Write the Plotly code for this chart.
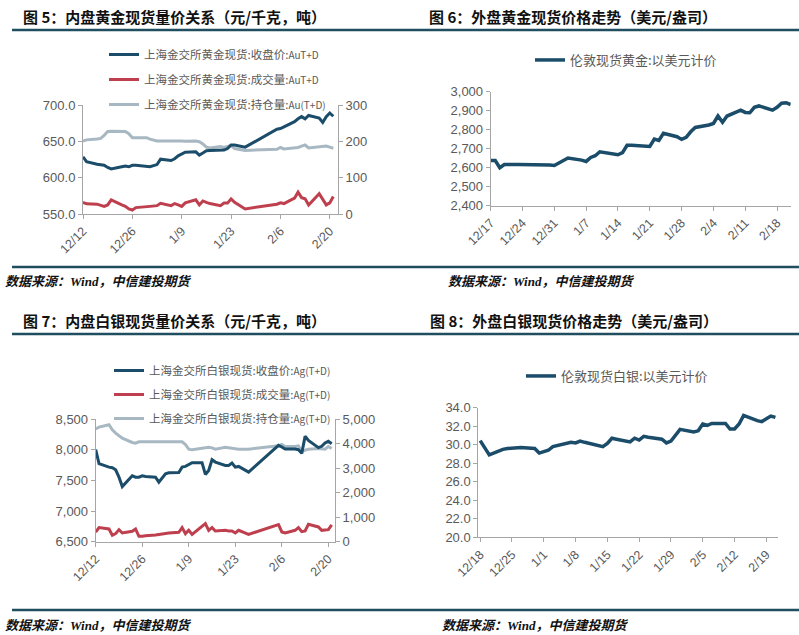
import plotly.graph_objects as go

W, H = 799, 635

# ---------------- data ----------------
sge_dates = ["2024-12-12", "2024-12-13", "2024-12-16", "2024-12-17", "2024-12-18", "2024-12-19", "2024-12-20",
             "2024-12-23", "2024-12-24", "2024-12-25", "2024-12-26", "2024-12-27", "2024-12-30", "2024-12-31",
             "2025-01-02", "2025-01-03", "2025-01-06", "2025-01-07", "2025-01-08", "2025-01-09", "2025-01-10",
             "2025-01-13", "2025-01-14", "2025-01-15", "2025-01-16", "2025-01-17", "2025-01-20", "2025-01-21",
             "2025-01-22", "2025-01-23", "2025-01-24", "2025-01-27", "2025-02-05", "2025-02-06", "2025-02-07",
             "2025-02-10", "2025-02-11", "2025-02-12", "2025-02-13", "2025-02-14", "2025-02-17", "2025-02-18",
             "2025-02-19", "2025-02-20", "2025-02-21"]

au_close = [628.7, 622, 618.5, 618, 617, 614, 612, 615, 616, 615, 617, 617, 616, 615, 618, 625.5, 623.6, 626,
            630, 633, 635, 635.6, 631, 634, 637, 637.5, 638, 638, 640, 645, 645, 642, 666.7, 667.6, 670,
            677, 681, 684, 681, 685.6, 682, 676, 684, 689, 684.5]
au_volume = [32, 28, 27, 25, 21, 25, 39, 25, 21, 14, 11, 17.6, 19, 21, 23, 29.6, 23, 28.7, 25, 21, 30.6,
             39, 25, 36, 32, 28.7, 23, 30, 30, 41.7, 32, 14, 27, 30.6, 28.7, 43.5, 60, 45, 41.7, 25,
             55.6, 40, 25, 30.6, 48]
au_oi = [201, 204, 206.5, 208, 216, 227, 228, 228, 227, 221, 210, 210, 210, 206, 201, 201, 202, 202, 202,
         201, 200, 201, 199, 193, 184, 182, 186, 183, 186, 188, 180, 175, 178, 183, 179, 180.5, 183, 187,
         190, 182, 184, 185, 187, 184, 181]

ag_close = [8000, 7771, 7716, 7705, 7672, 7552, 7399, 7574, 7552, 7552, 7574, 7563, 7552, 7470, 7607, 7623,
            7628, 7716, 7727, 7754, 7787, 7787, 7596, 7661, 7836, 7798, 7743, 7743, 7781, 7716, 7727, 7634,
            8071, 8044, 8011, 8011, 8000, 7940, 8220, 8150, 8033, 8055, 8109, 8136, 8098]
ag_volume = [396, 574, 519, 260, 328, 492, 355, 423, 519, 219, 219, 246, 273, 300, 328, 355, 383, 574, 328,
             464, 300, 601, 738, 464, 574, 437, 464, 437, 437, 355, 464, 300, 697, 396, 355, 464, 574, 410,
             437, 710, 601, 464, 464, 492, 683]
ag_oi = [4590, 4672, 4768, 4563, 4426, 4317, 4221, 4044, 4016, 4071, 4071, 4071, 4071, 4071, 4085, 4098,
         4098, 4071, 3962, 3770, 3743, 3798, 3839, 3852, 3825, 3770, 3852, 3825, 3825, 3798, 3770, 3770,
         3907, 3962, 3880, 3880, 3907, 3689, 3716, 3770, 3798, 3798, 3770, 3880, 3798]

ldn_gold_dates = ["2024-12-17", "2024-12-18", "2024-12-19", "2024-12-20", "2024-12-23", "2024-12-24",
                  "2024-12-27", "2024-12-30", "2024-12-31", "2025-01-02", "2025-01-03", "2025-01-06",
                  "2025-01-07", "2025-01-08", "2025-01-09", "2025-01-10", "2025-01-13", "2025-01-14",
                  "2025-01-15", "2025-01-16", "2025-01-17", "2025-01-20", "2025-01-21", "2025-01-22",
                  "2025-01-23", "2025-01-24", "2025-01-27", "2025-01-28", "2025-01-29", "2025-01-30",
                  "2025-01-31", "2025-02-03", "2025-02-04", "2025-02-05", "2025-02-06", "2025-02-07",
                  "2025-02-10", "2025-02-11", "2025-02-12", "2025-02-13", "2025-02-14", "2025-02-17",
                  "2025-02-18", "2025-02-19", "2025-02-20", "2025-02-21"]
ldn_gold = [2638, 2638, 2600, 2617, 2617, 2617, 2617, 2614, 2612, 2635, 2651, 2640, 2633, 2654, 2663, 2684,
            2672, 2668, 2679, 2718, 2718, 2712, 2712, 2751, 2744, 2781, 2763, 2749, 2760, 2789, 2812, 2825,
            2833, 2872, 2839, 2872, 2903, 2891, 2889, 2918, 2925, 2903, 2918, 2939, 2942, 2932]

ldn_silver_dates = ldn_gold_dates[1:]
ldn_silver = [30.44, 29.6, 28.9, 29.5, 29.6, 29.7, 29.6, 29.1, 29.4, 29.8, 30.2, 30.26, 30.2, 30.4, 30.26,
              29.97, 29.8, 30.15, 30.7, 30.6, 30.3, 30.7, 30.5, 30.9, 30.8, 30.6, 30.2, 30.4, 31.05, 31.66,
              31.37, 31.5, 32.24, 32.1, 32.3, 32.3, 31.7, 31.7, 32.24, 33.17, 32.6, 32.5, 32.8, 33.1, 32.96]

sge_tickvals = ["2024-12-12", "2024-12-26", "2025-01-09", "2025-01-23", "2025-02-06", "2025-02-20"]
sge_ticktext = ["12/12", "12/26", "1/9", "1/23", "2/6", "2/20"]
lg_tickvals = ["2024-12-17", "2024-12-24", "2024-12-31", "2025-01-07", "2025-01-14", "2025-01-21",
               "2025-01-28", "2025-02-04", "2025-02-11", "2025-02-18"]
lg_ticktext = ["12/17", "12/24", "12/31", "1/7", "1/14", "1/21", "1/28", "2/4", "2/11", "2/18"]
ls_tickvals = ["2024-12-18", "2024-12-25", "2025-01-01", "2025-01-08", "2025-01-15", "2025-01-22",
               "2025-01-29", "2025-02-05", "2025-02-12", "2025-02-19"]
ls_ticktext = ["12/18", "12/25", "1/1", "1/8", "1/15", "1/22", "1/29", "2/5", "2/12", "2/19"]

titles = ["图 5：内盘黄金现货量价关系（元/千克，吨）", "图 6：外盘黄金现货价格走势（美元/盎司）",
          "图 7：内盘白银现货量价关系（元/千克，吨）", "图 8：外盘白银现货价格走势（美元/盎司）"]
source = '数据来源：<span style="font-family:Liberation Serif">Wind</span>，中信建投期货'

# ---------------- styles ----------------
BLUE = "#1B4C69"
RED = "#BE3F4D"
GRAY = "#A8B8C3"
LINE = "#1F4E5F"
TXT = "#595959"
AX = "#A6A6A6"
CJK = "Noto Sans CJK SC"
NUM = "Liberation Sans"


def px(x):
    return x / W


def py(y):
    return 1 - y / H


def small(s):
    return '<span style="font-size:10px">' + s + '</span>'


fig = go.Figure()

# Panel 1
fig.add_trace(go.Scatter(x=sge_dates, y=au_oi, mode="lines", line=dict(color=GRAY, width=3),
                         name="上海金交所黄金现货:持仓量:" + small("Au(T+D)"), xaxis="x", yaxis="y",
                         legend="legend", legendgroup="g3", legendrank=3))
fig.add_trace(go.Scatter(x=sge_dates, y=au_volume, mode="lines", line=dict(color=RED, width=3),
                         name="上海金交所黄金现货:成交量:" + small("AuT+D"), xaxis="x", yaxis="y",
                         legend="legend", legendgroup="g2", legendrank=2))
fig.add_trace(go.Scatter(x=sge_dates, y=au_close, mode="lines", line=dict(color=BLUE, width=3),
                         name="上海金交所黄金现货:收盘价:" + small("AuT+D"), xaxis="x", yaxis="y2",
                         legend="legend", legendgroup="g1", legendrank=1))
# Panel 2
fig.add_trace(go.Scatter(x=ldn_gold_dates, y=ldn_gold, mode="lines", line=dict(color=BLUE, width=3.5),
                         name="伦敦现货黄金:以美元计价", xaxis="x2", yaxis="y3", legend="legend2"))
# Panel 3
fig.add_trace(go.Scatter(x=sge_dates, y=ag_oi, mode="lines", line=dict(color=GRAY, width=3),
                         name="上海金交所白银现货:持仓量:" + small("Ag(T+D)"), xaxis="x3", yaxis="y4",
                         legend="legend3", legendgroup="h3", legendrank=3))
fig.add_trace(go.Scatter(x=sge_dates, y=ag_volume, mode="lines", line=dict(color=RED, width=3),
                         name="上海金交所白银现货:成交量:" + small("Ag(T+D)"), xaxis="x3", yaxis="y4",
                         legend="legend3", legendgroup="h2", legendrank=2))
fig.add_trace(go.Scatter(x=sge_dates, y=ag_close, mode="lines", line=dict(color=BLUE, width=3),
                         name="上海金交所白银现货:收盘价:" + small("Ag(T+D)"), xaxis="x3", yaxis="y5",
                         legend="legend3", legendgroup="h1", legendrank=1))
# Panel 4
fig.add_trace(go.Scatter(x=ldn_silver_dates, y=ldn_silver, mode="lines", line=dict(color=BLUE, width=3.5),
                         name="伦敦现货白银:以美元计价", xaxis="x4", yaxis="y6", legend="legend4"))

axis_common = dict(showline=True, linecolor=AX, linewidth=1, ticks="outside", ticklen=4, tickcolor=AX,
                   showgrid=False, zeroline=False, automargin=False,
                   tickfont=dict(family=NUM, size=13, color=TXT))
xcommon = dict(axis_common, type="date", tickangle=-45, tickfont=dict(family=NUM, size=12.5, color=TXT))

layout = dict(
    width=W, height=H, margin=dict(l=0, r=0, t=0, b=0, autoexpand=False),
    paper_bgcolor="white", plot_bgcolor="white",
    xaxis=dict(xcommon, domain=[px(83), px(338)], anchor="y",
               range=["2024-12-12", "2025-02-22 08:00"], tickvals=sge_tickvals, ticktext=sge_ticktext),
    yaxis=dict(axis_common, domain=[py(214), py(105)], anchor="x", side="right",
               range=[0, 300], tickvals=[0, 100, 200, 300]),
    yaxis2=dict(axis_common, overlaying="y", anchor="x", side="left",
                range=[550, 700], tickvals=[550, 600, 650, 700], tickformat=".1f"),
    xaxis2=dict(xcommon, domain=[px(490.7), px(790.7)], anchor="y3",
                range=["2024-12-17", "2025-02-21"], tickvals=lg_tickvals, ticktext=lg_ticktext),
    yaxis3=dict(axis_common, domain=[py(205.7), py(91.7)], anchor="x2",
                range=[2400, 3000], dtick=100, tickformat=","),
    xaxis3=dict(xcommon, domain=[px(95.7), px(335)], anchor="y4",
                range=["2024-12-12", "2025-02-22"], tickvals=sge_tickvals, ticktext=sge_ticktext),
    yaxis4=dict(axis_common, domain=[py(541.7), py(419)], anchor="x3", side="right",
                range=[0, 5000], dtick=1000, tickformat=","),
    yaxis5=dict(axis_common, overlaying="y4", anchor="x3", side="left",
                range=[6500, 8500], dtick=500, tickformat=","),
    xaxis4=dict(xcommon, domain=[px(478.3), px(777.7)], anchor="y6",
                range=["2024-12-17 14:00", "2025-02-21 12:00"], tickvals=ls_tickvals, ticktext=ls_ticktext),
    yaxis6=dict(axis_common, domain=[py(537.3), py(407.7)], anchor="x4",
                range=[20, 34], dtick=2, tickformat=".1f"),
    legend=dict(x=px(104), y=py(40), xanchor="left", yanchor="top", bgcolor="rgba(0,0,0,0)",
                font=dict(family=CJK, size=11.5, color=TXT), traceorder="grouped", tracegroupgap=6),
    legend2=dict(x=px(530), y=py(45), xanchor="left", yanchor="top", bgcolor="rgba(0,0,0,0)",
                 font=dict(family=CJK, size=13, color=TXT)),
    legend3=dict(x=px(109), y=py(356), xanchor="left", yanchor="top", bgcolor="rgba(0,0,0,0)",
                 font=dict(family=CJK, size=11.5, color=TXT), traceorder="grouped", tracegroupgap=5),
    legend4=dict(x=px(521), y=py(361), xanchor="left", yanchor="top", bgcolor="rgba(0,0,0,0)",
                 font=dict(family=CJK, size=13, color=TXT)),
    showlegend=True,
)
fig.update_layout(**layout)

# titles
title_pos = [(21, 16), (427, 16), (21, 320), (428, 320)]
for t, (x, y) in zip(titles, title_pos):
    fig.add_annotation(text="<b>" + t + "</b>", x=px(x), y=py(y), xref="paper", yref="paper",
                       xanchor="left", yanchor="middle", showarrow=False,
                       font=dict(family=CJK, size=15, color="#111111"))
# sources
src_pos = [(3, 281), (446, 281), (3, 624), (440, 624)]
for (x, y) in src_pos:
    fig.add_annotation(text="<b><i>" + source + "</i></b>", x=px(x), y=py(y), xref="paper", yref="paper",
                       xanchor="left", yanchor="middle", showarrow=False,
                       font=dict(family=CJK, size=13, color="#111111"))
# divider lines
for y in [30, 267, 334, 610]:
    fig.add_shape(type="line", xref="paper", yref="paper", x0=px(12), x1=1, y0=py(y), y1=py(y),
                  line=dict(color=LINE, width=2.5))

fig.write_html("out.html", config={"displayModeBar": False},
               post_script="document.body.style.margin='0';document.body.style.overflow='hidden';")
